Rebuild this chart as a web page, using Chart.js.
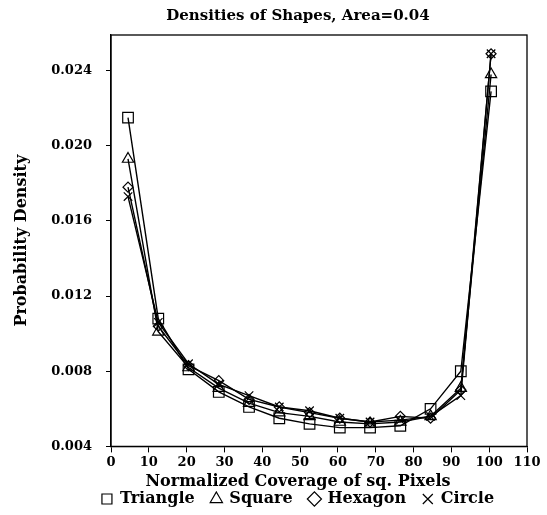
<!DOCTYPE html>
<html>
<head>
<meta charset="utf-8">
<script src="https://cdn.jsdelivr.net/npm/chart.js@4.4.1/dist/chart.umd.min.js"></script>
<style>
  html, body { margin: 0; padding: 0; background: #fff; }
  #wrap { width: 547px; height: 515px; }
</style>
</head>
<body>
<div id="wrap"><canvas id="c" width="547" height="515"></canvas></div>
<script>
// ---- data ----
const coverage = [4.5, 12.5, 20.5, 28.5, 36.5, 44.5, 52.5, 60.5, 68.5, 76.5, 84.5, 92.5, 100.5];
const triangleDensity = [0.0215, 0.0108, 0.0081, 0.0069, 0.0061, 0.0055, 0.0052, 0.0050, 0.0050, 0.0051, 0.0060, 0.0080, 0.0229];
const squareDensity   = [0.0193, 0.0101, 0.0082, 0.0071, 0.0063, 0.0058, 0.0056, 0.0053, 0.0052, 0.0053, 0.0056, 0.0071, 0.0238];
const hexagonDensity  = [0.0178, 0.0104, 0.0083, 0.0075, 0.0065, 0.0061, 0.0058, 0.0055, 0.0053, 0.0056, 0.0055, 0.0070, 0.0249];
const circleDensity   = [0.0173, 0.0106, 0.0084, 0.0073, 0.0067, 0.0061, 0.0059, 0.0055, 0.0053, 0.0054, 0.0056, 0.0067, 0.0249];
const seriesLabels = ['Triangle', 'Square', 'Hexagon', 'Circle'];
const xTickValues = [0, 10, 20, 30, 40, 50, 60, 70, 80, 90, 100, 110];
const yTickValues = [0.004, 0.008, 0.012, 0.016, 0.020, 0.024];

const FONT = '"DejaVu Serif", "Liberation Serif", serif';
const PAD_LEFT = 49;      // outer padding so centred texts line up with the reference
const PLOT_LEFT = 111;    // x pixel of the y axis
const RIGHT_GAP = 20;     // space right of the plot frame

function pts(ys) { return coverage.map((x, i) => ({ x: x, y: ys[i] })); }

const styles = [
  { pointStyle: 'rect', pointRadius: 7.5 },
  { pointStyle: 'triangle', pointRadius: 6.5 },
  { pointStyle: 'rectRot', pointRadius: 5 },
  { pointStyle: 'crossRot', pointRadius: 6 }
];
const allSeries = [triangleDensity, squareDensity, hexagonDensity, circleDensity];

const datasets = allSeries.map((s, i) => ({
  label: seriesLabels[i],
  data: pts(s),
  borderColor: '#000',
  backgroundColor: 'rgba(0,0,0,0)',
  borderWidth: 1.4,
  pointStyle: styles[i].pointStyle,
  pointRadius: styles[i].pointRadius,
  pointBorderWidth: 1.2,
  pointBorderColor: '#000',
  pointBackgroundColor: 'rgba(0,0,0,0)',
  showLine: true,
  tension: 0
}));

const framePlugin = {
  id: 'frame',
  afterDraw(chart) {
    const a = chart.chartArea, ctx = chart.ctx;
    ctx.save();
    ctx.strokeStyle = '#000';
    ctx.lineWidth = 1.3;
    ctx.strokeRect(a.left, a.top, a.right - a.left, a.bottom - a.top);
    ctx.restore();
  }
};

new Chart(document.getElementById('c'), {
  type: 'scatter',
  data: { datasets: datasets },
  plugins: [framePlugin],
  options: {
    responsive: false,
    animation: false,
    layout: { padding: { left: PAD_LEFT, right: 0, top: 0, bottom: -2 } },
    plugins: {
      title: {
        display: true,
        text: 'Densities of Shapes, Area=0.04',
        color: '#000',
        font: { family: FONT, size: 15, weight: 'bold' },
        padding: { top: 7, bottom: 10 }
      },
      subtitle: {
        display: true,
        position: 'bottom',
        text: 'Normalized Coverage of sq. Pixels',
        color: '#000',
        font: { family: FONT, size: 16, weight: 'bold', lineHeight: 1.1 },
        padding: { top: 7, bottom: 0 }
      },
      legend: {
        position: 'bottom',
        weight: 3000,
        labels: {
          color: '#000',
          font: { family: FONT, size: 16, weight: 'bold' },
          usePointStyle: true,
          boxHeight: 10,
          boxWidth: 10,
          padding: 0,
          generateLabels: (chart) => {
            const items = Chart.defaults.plugins.legend.labels.generateLabels(chart);
            items.forEach((it, i) => { if (i < items.length - 1) it.text = it.text + '   '; });
            return items;
          }
        }
      },
      tooltip: { enabled: false }
    },
    scales: {
      x: {
        type: 'linear',
        min: 0, max: 110,
        afterBuildTicks: (s) => { s.ticks = xTickValues.map(v => ({ value: v })); },
        afterFit: (s) => { s.height = 20; },
        ticks: {
          color: '#000',
          font: { family: FONT, size: 13, weight: 'bold' },
          padding: 2,
          maxRotation: 0,
          autoSkip: false
        },
        grid: { drawOnChartArea: false, drawTicks: true, tickLength: 6, color: '#000', lineWidth: 1 },
        border: { display: true, color: '#000', width: 1.3 }
      },
      y: {
        type: 'linear',
        min: 0.004, max: 0.0259,
        afterBuildTicks: (s) => { s.ticks = yTickValues.map(v => ({ value: v })); },
        afterFit: (s) => { s.width = PLOT_LEFT - PAD_LEFT; },
        ticks: {
          color: '#000',
          font: { family: FONT, size: 13, weight: 'bold' },
          padding: 14,
          callback: (v) => Number(v).toFixed(3)
        },
        grid: { drawOnChartArea: false, drawTicks: true, tickLength: 5, color: '#000', lineWidth: 1 },
        border: { display: true, color: '#000', width: 1.3 },
        title: {
          display: true,
          text: 'Probability Density',
          color: '#000',
          font: { family: FONT, size: 16, weight: 'bold' },
          padding: { top: 22 - PAD_LEFT - 9.6, bottom: 0 }
        }
      },
      // empty spacer on the right so the plot frame ends where the reference's does
      yRightSpace: {
        type: 'linear',
        position: 'right',
        display: true,
        ticks: { display: false },
        grid: { display: false },
        border: { display: false },
        afterFit: (s) => { s.width = RIGHT_GAP; }
      }
    }
  }
});
</script>
</body>
</html>
